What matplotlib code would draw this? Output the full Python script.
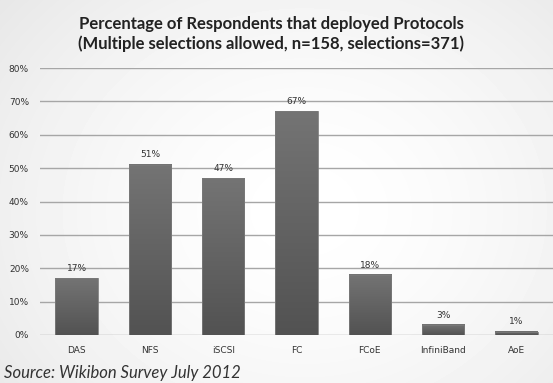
import numpy as np
import matplotlib
matplotlib.use("Agg")
import matplotlib.pyplot as plt
from matplotlib.colors import LinearSegmentedColormap

categories = ["DAS", "NFS", "iSCSI", "FC", "FCoE", "InfiniBand", "AoE"]
values = [17, 51, 47, 67, 18, 3, 1]
yticks = [0, 10, 20, 30, 40, 50, 60, 70, 80]
title = ("Percentage of Respondents that deployed Protocols\n"
         "(Multiple selections allowed, n=158, selections=371)")
source = "Source: Wikibon Survey July 2012"

W, H, DPI = 553, 383, 100
fig = plt.figure(figsize=(W / DPI, H / DPI), dpi=DPI)

# soft radial background: light centre fading to grey edges
bg = fig.add_axes([0, 0, 1, 1], zorder=0)
yy, xx = np.mgrid[0:H, 0:W]
r = np.sqrt(((xx - W * 0.55) / (W * 0.62)) ** 2 + ((yy - H * 0.55) / (H * 0.75)) ** 2)
shade = np.clip(1.0 - 0.075 * r ** 1.6, 0, 1)
bg.imshow(shade, cmap="gray", vmin=0, vmax=1, aspect="auto", interpolation="bilinear")
bg.axis("off")

ax = fig.add_axes([40 / W, 1 - 335 / H, (553 - 40) / W, (335 - 68) / H], zorder=1)
ax.patch.set_alpha(0)
x = np.arange(len(categories))

for v in yticks:
    ax.axhline(v, color="#a6a6a6", lw=1.0, zorder=1)

# bars with a vertical grey gradient
bar_w = 0.58
grad = LinearSegmentedColormap.from_list("bar", ["#525252", "#747474"])
bars = ax.bar(x, values, width=bar_w, color="none", edgecolor="#7a7a7a", lw=0.6, zorder=3)
g = np.linspace(0, 1, 256).reshape(-1, 1)
for b, v in zip(bars, values):
    x0 = b.get_x()
    ax.imshow(g, cmap=grad, origin="lower", aspect="auto",
              extent=[x0, x0 + bar_w, 0, v], zorder=2, interpolation="bilinear")
    ax.text(x0 + bar_w / 2, v + 1.6, f"{v}%", ha="center", va="bottom",
            fontsize=6.5, color="#333333", family="DejaVu Sans", zorder=4)
ax.set_xlim(-0.5, len(categories) - 0.5)
ax.set_ylim(0, 80)

for s in ax.spines.values():
    s.set_visible(False)
ax.set_yticks(yticks)
ax.set_yticklabels([f"{v}%" for v in yticks], fontsize=6.5, color="#333333")
ax.set_xticks(x)
ax.set_xticklabels(categories, fontsize=6.5, color="#333333")
ax.tick_params(axis="y", length=0, pad=8)
ax.tick_params(axis="x", length=0, pad=8)

fig.text(0.49, 1 - 34 / H, title, ha="center", va="center", fontsize=12,
         fontweight="bold", family="Lato", color="#222222", linespacing=1.3)
fig.text(4 / W, 1 - 373 / H, source, ha="left", va="center", fontsize=12,
         style="italic", family="Lato", color="#333333")

fig.savefig("out.png", dpi=DPI)
